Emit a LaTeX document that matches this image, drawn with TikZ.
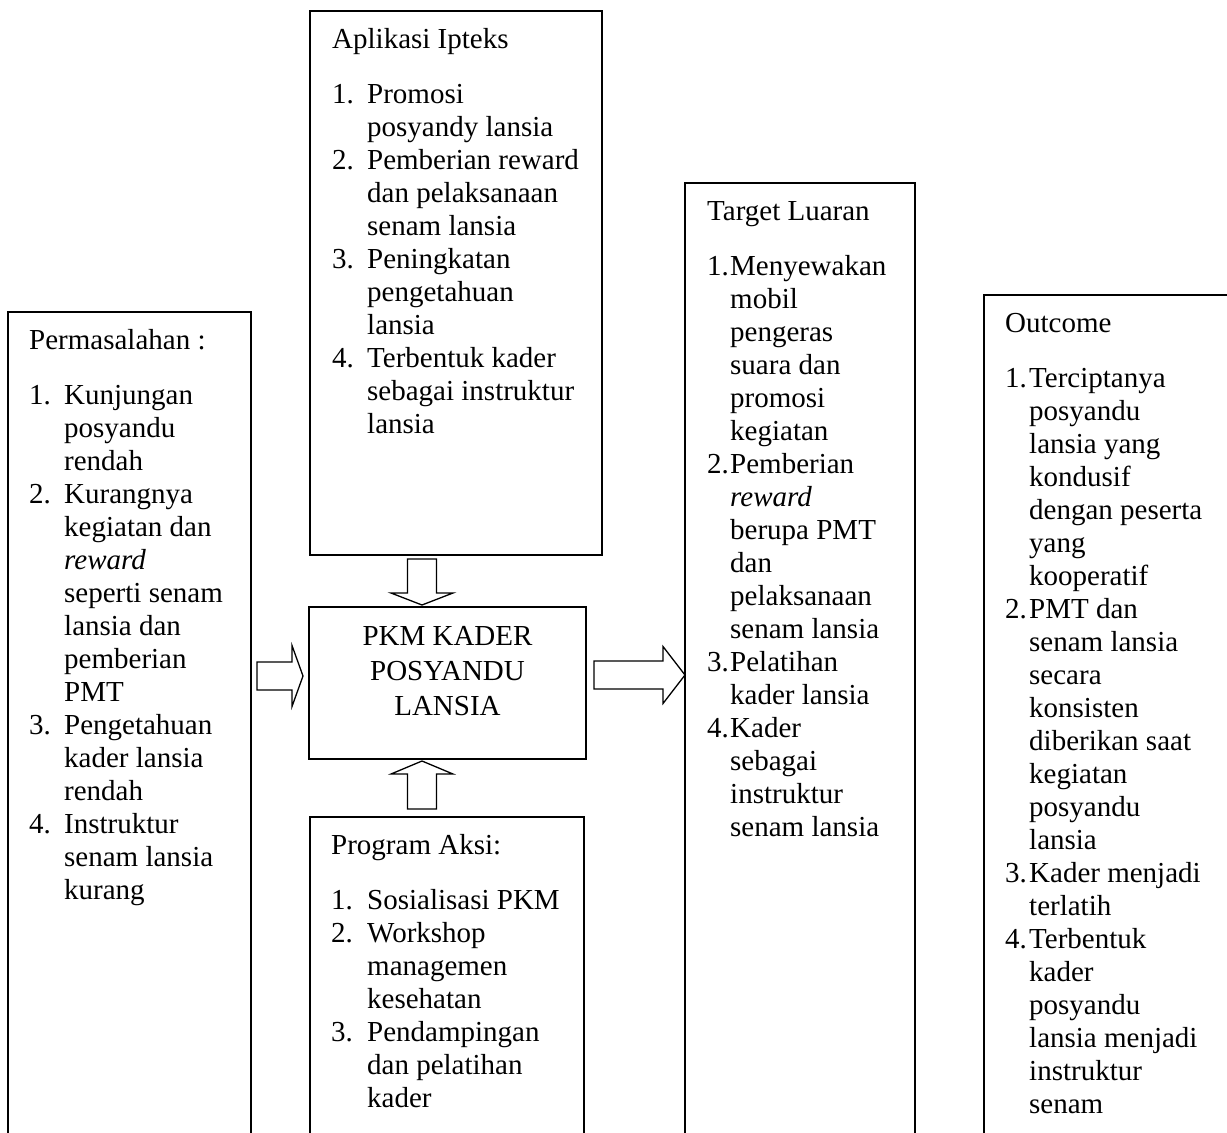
\documentclass[tikz,border=0pt]{standalone}
\usepackage{fontspec}
\setmainfont{Liberation Serif}
\usetikzlibrary{calc}

\begin{document}
\begin{tikzpicture}[x=1pt,y=-1pt,panel/.style={draw,line width=1.6pt,outer sep=0pt,inner sep=0pt,anchor=north west},words/.style={anchor=base west,inner sep=0pt,font=\fontsize{29}{33}\selectfont},fatarrow/.style n args={3}{draw,line width=1.3pt,to path={($(\tikztostart)!#1!90:(\tikztotarget)$) -- ($(\tikztotarget)!#3!(\tikztostart)!#1!-90:(\tikztostart)$) -- ($(\tikztotarget)!#3!(\tikztostart)!#2!-90:(\tikztostart)$) -- (\tikztotarget) -- ($(\tikztotarget)!#3!(\tikztostart)!#2!90:(\tikztostart)$) -- ($(\tikztotarget)!#3!(\tikztostart)!#1!90:(\tikztostart)$) -- ($(\tikztostart)!#1!-90:(\tikztotarget)$) -- cycle}}]
\useasboundingbox (0,0) rectangle (1227,1133);
\clip (0,0) rectangle (1227,1133);
\node[panel,minimum width=243pt,minimum height=900pt] (masalah) at (8,312) {};
\node[panel,minimum width=292pt,minimum height=544pt] (apl) at (310,11) {};
\node[panel,minimum width=277pt,minimum height=152pt] (pkm) at (309,607) {};
\node[panel,minimum width=274pt,minimum height=400pt] (aksi) at (310,817) {};
\node[panel,minimum width=230pt,minimum height=1000pt] (target) at (685,183) {};
\node[panel,minimum width=300pt,minimum height=900pt] (outcome) at (984,295) {};
\node[words] (masalahtxt) at ([xshift=21pt,yshift=-37pt]masalah.north west) {\begin{tabular}[t]{@{}p{35pt}@{}l@{}}
\multicolumn{2}{@{}l@{}}{Permasalahan :}\\[22pt]
1. & Kunjungan\\
 & posyandu\\
 & rendah\\
2. & Kurangnya\\
 & kegiatan dan\\
 & \textit{reward}\\
 & seperti senam\\
 & lansia dan\\
 & pemberian\\
 & PMT\\
3. & Pengetahuan\\
 & kader lansia\\
 & rendah\\
4. & Instruktur\\
 & senam lansia\\
 & kurang
\end{tabular}};
\node[words] (apltxt) at ([xshift=22pt,yshift=-37pt]apl.north west) {\begin{tabular}[t]{@{}p{35pt}@{}l@{}}
\multicolumn{2}{@{}l@{}}{Aplikasi Ipteks}\\[22pt]
1. & Promosi\\
 & posyandy lansia\\
2. & Pemberian reward\\
 & dan pelaksanaan\\
 & senam lansia\\
3. & Peningkatan\\
 & pengetahuan\\
 & lansia\\
4. & Terbentuk kader\\
 & sebagai instruktur\\
 & lansia
\end{tabular}};
\node[words,anchor=base] (pkmtxt) at ([yshift=-38pt]pkm.north) {\begin{tabular}[t]{@{}c@{}}
PKM KADER\\[2pt]
POSYANDU\\[2pt]
LANSIA
\end{tabular}};
\node[words] (aksitxt) at ([xshift=21pt,yshift=-37pt]aksi.north west) {\begin{tabular}[t]{@{}p{36pt}@{}l@{}}
\multicolumn{2}{@{}l@{}}{Program Aksi:}\\[22pt]
1. & Sosialisasi PKM\\
2. & Workshop\\
 & managemen\\
 & kesehatan\\
3. & Pendampingan\\
 & dan pelatihan\\
 & kader
\end{tabular}};
\node[words] (targettxt) at ([xshift=22pt,yshift=-37pt]target.north west) {\begin{tabular}[t]{@{}p{23pt}@{}l@{}}
\multicolumn{2}{@{}l@{}}{Target Luaran}\\[22pt]
1. & Menyewakan\\
 & mobil\\
 & pengeras\\
 & suara dan\\
 & promosi\\
 & kegiatan\\
2. & Pemberian\\
 & \textit{reward}\\
 & berupa PMT\\
 & dan\\
 & pelaksanaan\\
 & senam lansia\\
3. & Pelatihan\\
 & kader lansia\\
4. & Kader\\
 & sebagai\\
 & instruktur\\
 & senam lansia
\end{tabular}};
\node[words] (outcometxt) at ([xshift=21pt,yshift=-37pt]outcome.north west) {\begin{tabular}[t]{@{}p{24pt}@{}l@{}}
\multicolumn{2}{@{}l@{}}{Outcome}\\[22pt]
1. & Terciptanya\\
 & posyandu\\
 & lansia yang\\
 & kondusif\\
 & dengan peserta\\
 & yang\\
 & kooperatif\\
2. & PMT dan\\
 & senam lansia\\
 & secara\\
 & konsisten\\
 & diberikan saat\\
 & kegiatan\\
 & posyandu\\
 & lansia\\
3. & Kader menjadi\\
 & terlatih\\
4. & Terbentuk\\
 & kader\\
 & posyandu\\
 & lansia menjadi\\
 & instruktur\\
 & senam
\end{tabular}};
\draw[fatarrow={14.5pt}{31pt}{12pt}] ([xshift=112pt,yshift=-4pt]apl.south west) to ([xshift=113pt,yshift=2pt]pkm.north west);
\draw[fatarrow={14.5pt}{31pt}{13pt}] ([xshift=112pt,yshift=8pt]aksi.north west) to ([xshift=113pt,yshift=-2pt]pkm.south west);
\draw[fatarrow={14pt}{30.5pt}{11pt}] ([xshift=6pt,yshift=-364pt]masalah.north east) to ([xshift=-6pt,yshift=-69pt]pkm.north west);
\draw[fatarrow={14pt}{28.5pt}{22pt}] ([xshift=8pt,yshift=-68pt]pkm.north east) to ([yshift=-492pt]target.north west);
\end{tikzpicture}
\end{document}
